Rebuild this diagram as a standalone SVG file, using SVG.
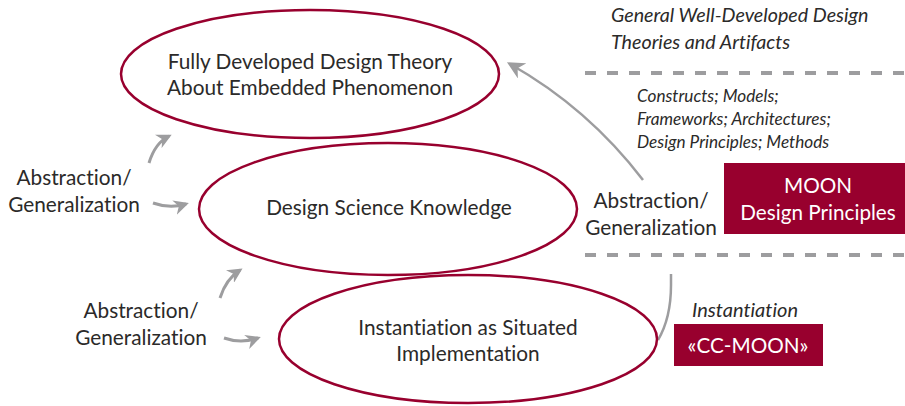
<svg xmlns="http://www.w3.org/2000/svg" width="905" height="406" viewBox="0 0 905 406">
<defs>
<marker id="ah" viewBox="0 0 10 10" refX="8" refY="5" markerWidth="5" markerHeight="5" orient="auto" markerUnits="strokeWidth">
<path d="M0,0 L10,5 L0,10 L3,5 Z" fill="#9d9d9f"/>
</marker>
<marker id="ahb" viewBox="0 0 10 10" refX="8" refY="5" markerWidth="7" markerHeight="7" orient="auto" markerUnits="strokeWidth">
<path d="M0,0 L10,5 L0,10 L3,5 Z" fill="#9d9d9f"/>
</marker>
</defs>
<style>
text{font-variant-ligatures:none}
.ell{fill:none;stroke:#98002e;stroke-width:2.5}
.t{font-family:Lato,"Open Sans","Liberation Sans",sans-serif;font-size:20.8px;fill:#2b2a29;text-anchor:middle}
.it{font-family:Lato,"Open Sans","Liberation Sans",sans-serif;font-style:italic;fill:#2b2a29}
.w{font-family:Lato,"Open Sans","Liberation Sans",sans-serif;font-size:20.7px;fill:#ffffff;text-anchor:middle}
.sm{fill:none;stroke:#9d9d9f;stroke-width:3;marker-end:url(#ah)}
.dash{fill:none;stroke:#9d9d9f;stroke-width:4;stroke-dasharray:11 11}
</style>
<rect width="905" height="406" fill="#ffffff"/>
<g id="connectors">
<path class="sm" d="M149,163 Q155,143 169,136"/>
<path class="sm" d="M153,203 Q170,209 186,204"/>
<path class="sm" d="M220,298 Q226,279 240,270"/>
<path class="sm" d="M224,338 Q241,344 258,338"/>
<path d="M643,180 Q588,108 510,64" fill="none" stroke="#9d9d9f" stroke-width="2.5" marker-end="url(#ahb)"/>
<path d="M671,274 L671,285 Q671,318 658,340" fill="none" stroke="#9d9d9f" stroke-width="2.5"/>
</g>
<g id="dividers">
<line class="dash" x1="585" y1="73" x2="905" y2="73"/>
<line class="dash" x1="585" y1="255" x2="905" y2="255"/>
</g>
<g id="node-theory">
<ellipse class="ell" cx="310" cy="74" rx="189" ry="64"/>
<text class="t" x="310" y="69">Fully Developed Design Theory</text>
<text class="t" x="310" y="95">About Embedded Phenomenon</text>
</g>
<g id="node-dsk">
<ellipse class="ell" cx="388" cy="209" rx="189" ry="66"/>
<text class="t" x="389" y="215">Design Science Knowledge</text>
</g>
<g id="node-inst">
<ellipse class="ell" cx="468" cy="339" rx="189" ry="64"/>
<text class="t" x="468" y="335">Instantiation as Situated</text>
<text class="t" x="468" y="361">Implementation</text>
</g>
<g id="label-ag1">
<text class="t" x="74" y="185">Abstraction/</text>
<text class="t" x="74" y="212">Generalization</text>
</g>
<g id="label-ag2">
<text class="t" x="141" y="318">Abstraction/</text>
<text class="t" x="141" y="345">Generalization</text>
</g>
<g id="label-ag3">
<text class="t" x="651" y="208">Abstraction/</text>
<text class="t" x="651" y="235">Generalization</text>
</g>
<g id="label-general">
<text class="it" x="611" y="22" font-size="19.7">General Well-Developed Design</text>
<text class="it" x="611" y="49" font-size="19.7">Theories and Artifacts</text>
</g>
<g id="label-constructs">
<text class="it" x="637" y="102" font-size="17.2">Constructs; Models;</text>
<text class="it" x="637" y="125" font-size="17.2">Frameworks; Architectures;</text>
<text class="it" x="637" y="148" font-size="17.2">Design Principles; Methods</text>
</g>
<g id="node-moon">
<rect x="724" y="163" width="181" height="71" fill="#98002e"/>
<text class="w" x="818" y="193">MOON</text>
<text class="w" x="818" y="220">Design Principles</text>
</g>
<g id="node-ccmoon">
<text class="it" x="745" y="317" font-size="20" text-anchor="middle">Instantiation</text>
<rect x="674" y="324" width="149" height="42" fill="#98002e"/>
<text class="w" x="748" y="353">«CC-MOON»</text>
</g>
</svg>
